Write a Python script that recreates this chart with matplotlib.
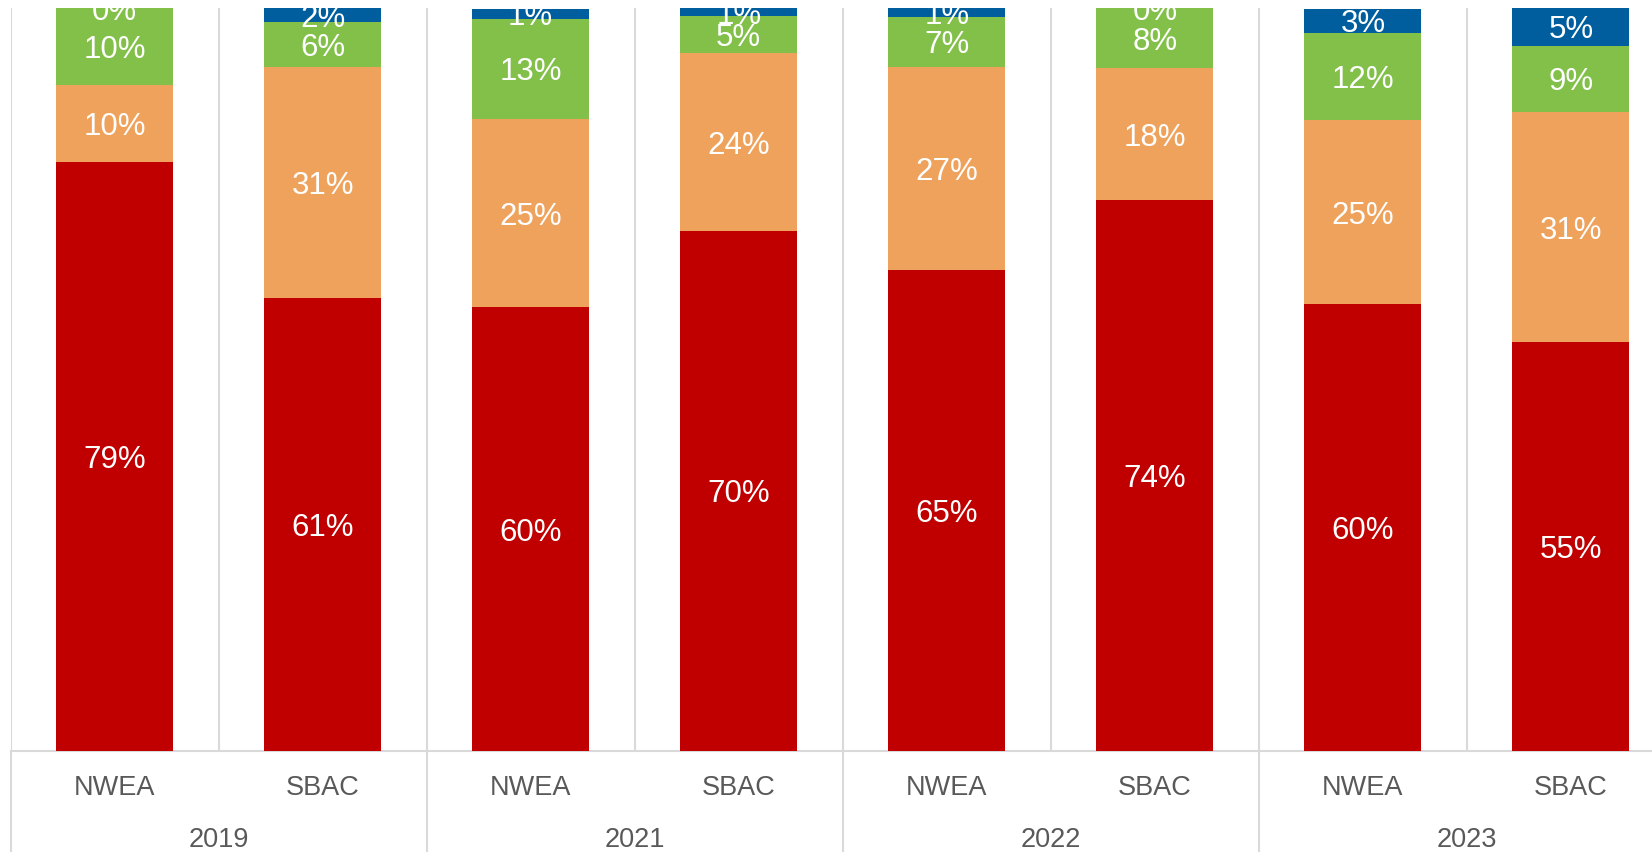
import matplotlib.pyplot as plt
import matplotlib.transforms as mtransforms

# data (shares; labels are rounded)
years = ["2019", "2021", "2022", "2023"]
tests = ["NWEA", "SBAC"] * 4
red = [0.793, 0.610, 0.597, 0.700, 0.648, 0.741, 0.601, 0.550]
orange = [0.103, 0.310, 0.254, 0.239, 0.273, 0.178, 0.248, 0.310]
green = [0.104, 0.061, 0.134, 0.050, 0.067, 0.081, 0.118, 0.089]
blue = [0.000, 0.019, 0.014, 0.011, 0.012, 0.000, 0.032, 0.051]

colors = ["#C00000", "#EEA25C", "#82C04A", "#005E9E"]
grid_c = "#D9D9D9"
text_c = "#595959"

plt.rcParams['font.family'] = ['Liberation Sans', 'DejaVu Sans']

W, H = 1652, 852
fig = plt.figure(figsize=(W / 100, H / 100), dpi=100)
# plot area runs past the right edge of the picture (cropped chart)
left, right, top, base = 10.5, 1675, 8, 751
ax = fig.add_axes([left / W, (H - base) / H, (right - left) / W, (base - top) / H])

x = list(range(len(tests)))
bottom = [0.0] * len(x)
for vals, c in zip([red, orange, green, blue], colors):
    ax.bar(x, vals, width=0.5625, bottom=bottom, color=c, zorder=3)
    for xi, v, b in zip(x, vals, bottom):
        ax.text(xi, b + v / 2, f"{v:.0%}", ha='center', va='center_baseline',
                color='white', fontsize=22.5, zorder=4)
    bottom = [b + v for b, v in zip(bottom, vals)]

ax.set_xlim(-0.5, len(x) - 0.5)
ax.set_ylim(0, 1)
ax.set_yticks([])
ax.set_xticks([])
for s in ['top', 'right', 'left']:
    ax.spines[s].set_visible(False)
ax.spines['bottom'].set_color(grid_c)
ax.spines['bottom'].set_linewidth(1.5)

# separators between categories
trans = mtransforms.blended_transform_factory(ax.transData, ax.transAxes)
for i in range(len(x) + 1):
    xb = i - 0.5
    ax.plot([xb, xb], [0, 1], transform=trans, color=grid_c, lw=1.5, zorder=1)
    if i % 2 == 0:
        ax.plot([xb, xb], [0, -0.2], transform=trans, color=grid_c, lw=1.5,
                clip_on=False, zorder=1)

# two-level category axis
for xi, t in zip(x, tests):
    ax.text(xi, -37 / 743, t, transform=trans, ha='center', va='center',
            color=text_c, fontsize=19.5)
for k, yr in enumerate(years):
    ax.text(2 * k + 0.5, -89 / 743, yr, transform=trans, ha='center', va='center',
            color=text_c, fontsize=19.5)

fig.savefig("out.png", dpi=100)
